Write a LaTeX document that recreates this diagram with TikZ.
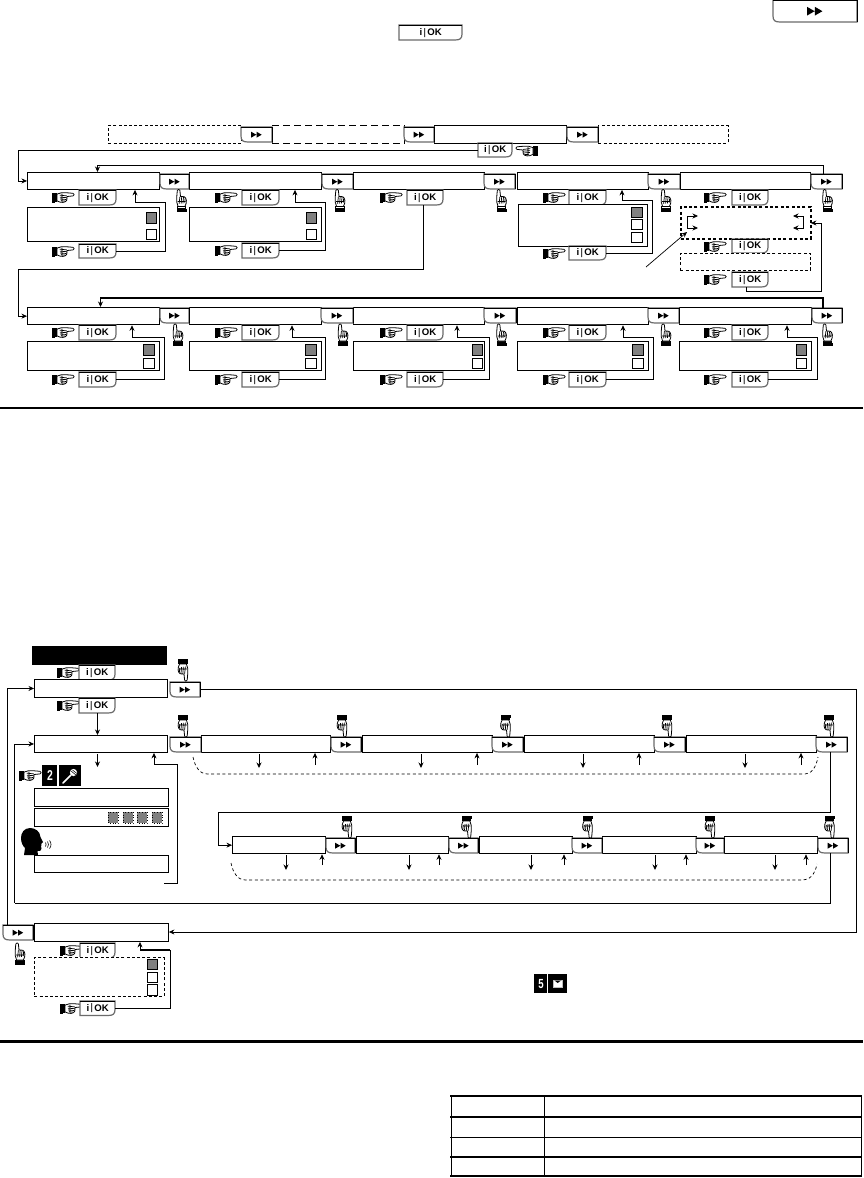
\documentclass[tikz,border=0pt]{standalone}
\usepackage{fontspec}
\setmainfont{Liberation Sans}
\usetikzlibrary{arrows.meta,calc}
\definecolor{sqgray}{gray}{0.5}
\definecolor{edgegray}{gray}{0.42}
\tikzset{
  lcd/.style={draw=black,fill=white,line width=.9pt,inner sep=0pt,anchor=north west},
  lcdthick/.style={lcd,line width=1.3pt},
  dashbox/.style={lcd,dash pattern=on 3pt off 2.2pt},
  dashboxthick/.style={lcd,line width=1.7pt,dash pattern=on 3pt off 2.4pt},
  dashlong/.style={lcd,dash pattern=on 7pt off 4pt},
  btnedge/.style={draw=edgegray,fill=white,line width=1.2pt},
  btnlabel/.style={inner sep=0pt,anchor=north west,font=\bfseries},
  conn/.style={draw=black,line width=.8pt},
  heavy/.style={draw=black,line width=1.4pt},
  arr/.style={conn,-{Stealth[length=5.5pt,width=5pt]}},
  flow/.style={conn,line width=.7pt,dash pattern=on 3pt off 2.6pt},
  hand/.pic={
    \fill[black] (-11,-5) rectangle (-8.4,5);
    \draw[black,line width=.8pt] (-7.8,-4.2) rectangle (-6.2,4.2);
    \draw[black,fill=white,line width=.8pt,line join=round]
      (-6,-3.4) .. controls (-3,-4.8) and (0,-5.2) .. (3,-4.8) -- (10,-4.2)
      .. controls (11.6,-3.8) and (11.6,-1.8) .. (10,-1.6) -- (4,-1)
      .. controls (5,1.4) and (3.8,4.6) .. (0,4.9) .. controls (-2,5.1) and (-4,4.4) .. (-6,3.4) -- cycle;
    \draw[black,line width=.7pt] (-3.4,-2.4) -- (3.8,-1.6) (-3.2,-.4) -- (3.8,.2) (-2.8,1.5) -- (3.4,2) (-2.2,3.2) -- (1.8,3.6) (-1,-3.8) -- (-1,4);
  },
}
% OK key: name x1 y1 x2 y2
\newcommand\okb[5]{%
  \draw[btnedge] (#2,#3) -- (#4,#3) -- ({#4},{#5-6}) .. controls ({#4},{#5-1.5}) and ({#4-2},{#5}) .. ({#4-7},{#5}) -- (#2,#5) -- cycle;
  \draw[black,line width=.7pt] (#2,#3) -- (#4,#3);
  \node[btnlabel,minimum width={(#4-#2)*1pt},minimum height={(#5-#3)*1pt},font=\fontsize{9.6}{10}\selectfont\bfseries] (#1) at (#2,#3) {i\,\raisebox{.2pt}{\scalebox{.7}[1]{|}}\,OK};
}
% pointing hand + OK key: [offset of the hand left of the key] name x1 y1 x2 y2
\newcommand\rok[6][16]{%
  \pic at ({#3-#1},{#4+7.5}) {hand};
  \okb{#2}{#3}{#4}{#5}{#6}%
}
% forward key: name x1 y1 x2 y2
\newcommand\ffb[5]{%
  \draw[btnedge] (#4,#3) -- (#2,#3) -- ({#2},{#5-6}) .. controls ({#2},{#5-1.5}) and ({#2+2},{#5}) .. ({#2+7},{#5}) -- (#4,#5) -- cycle;
  \draw[black,line width=.7pt] (#2,#3) -- (#4,#3) (#4,#3) -- (#4,#5);
  \node[btnlabel,minimum width={(#4-#2)*1pt},minimum height={(#5-#3)*1pt}] (#1) at (#2,#3) {};
  \pgfmathsetmacro\ffs{(#5-#3)<17?1:1.45}
  \fill[black,shift={(#1.center)},scale=\ffs] (-5.6,-3) -- (-.4,0) -- (-5.6,3) -- cycle (-.2,-3) -- (5,0) -- (-.2,3) -- cycle;
}
% box: [style] name x1 y1 x2 y2
\newcommand\lcdbox[6][lcd]{%
  \node[#1,minimum width={(#5-#3)*1pt},minimum height={(#6-#4)*1pt}] (#2) at (#3,#4) {};
}
\newcommand\gsq[4]{\draw[fill=sqgray,draw=black,line width=.8pt] (#1,#2) rectangle (#3,#4);}
\newcommand\wsq[4]{\draw[fill=white,draw=black,line width=1pt] (#1,#2) rectangle (#3,#4);}
\newcommand\dsq[1]{\draw[fill=sqgray,draw=black,line width=.6pt,dotted] (#1,812) rectangle ({#1+10},823);}
\newcommand\retln[5]{\draw[arr] (#1.east) -| (#2,#3) -| (#4,0 |- #5.south);}
\begin{document}
\begin{tikzpicture}[x=1pt,y=-1pt]
\useasboundingbox (0,0) rectangle (863,1178);
\fill[white] (0,0) rectangle (863,1178);

% key icons in the running text
\ffb{topff}{773}{0}{857}{22}
\okb{topok}{399}{25}{462}{40}

% ---- upper diagram, start row
\lcdbox[dashbox]{s1}{108}{125}{241}{142.5}
\lcdbox[dashlong]{s2}{272}{125}{404}{142.5}
\lcdbox{s3}{434}{125}{566}{142.5}
\lcdbox[dashbox]{s4}{598}{125}{727.5}{142.5}
\ffb{sf1}{241}{127}{272}{142}
\ffb{sf2}{404}{127}{434}{142}
\ffb{sf3}{567}{127}{598}{142}
\okb{sok}{478}{143}{512}{157}
\pic[xscale=-1] at (527,151) {hand};

% ---- row 1
\lcdbox{a1}{27}{172}{159}{189}
\lcdbox{a2}{189}{172}{320.5}{189}
\lcdbox{a3}{353}{172}{484}{189}
\lcdbox{a4}{517}{172}{648}{189}
\lcdbox{a5}{680}{172}{810}{189}
\ffb{af1}{160}{174}{189}{189}
\ffb{af2}{322}{174}{353}{189}
\ffb{af3}{484}{174}{515}{189}
\ffb{af4}{648}{174}{680}{189}
\ffb{af5}{811}{174}{842}{189}
\foreach \hx in {181.5,340,501.5,666,827.5} {\pic[rotate=90] at (\hx,200.5) {hand};}
\rok{ao1}{79}{190}{116}{205}
\rok{ao2}{242}{190}{279}{205}
\rok{ao3}{407}{190}{443}{205}
\rok[15]{ao4}{569}{190}{606}{205}
\rok[17]{ao5}{732}{190}{768}{205}

\lcdbox{b1}{27}{207}{159}{241}
\gsq{146}{212}{156}{223}\wsq{146}{229}{156}{239}
\rok{bo1}{79}{244}{116}{258}
\lcdbox{b2}{189}{207}{321}{241}
\gsq{306}{212}{316}{223}\wsq{306}{229}{316}{239}
\rok{bo2}{242}{243}{279}{258}
\lcdbox{b4}{518}{204}{647}{246}
\gsq{631}{207}{642}{217}\wsq{631}{219}{642}{229}\wsq{631}{232}{642}{242}
\rok[15]{bo4}{569}{246}{606}{260}
\lcdbox[dashboxthick]{b5}{680}{206}{810}{238}
\rok[17]{bo5}{732}{239}{768}{253}
\lcdbox[dashbox]{c5}{680}{253}{810}{270}
\rok[17]{co5}{732}{272}{768}{287}

% selection brackets inside the dashed box
\coordinate (brL) at (687,216); \coordinate (brR) at (803,216);
\draw[arr,line width=.7pt] (brL) -- (698,216);
\draw[arr,line width=.7pt] (brL) -- (687,228) -- (698,228);
\draw[arr,line width=.7pt] (brR) -- (793,216);
\draw[arr,line width=.7pt] (brR) -- (803,228) -- (793,228);
\coordinate (callout) at (646,267);
\coordinate (calltip) at (687,232);
\draw[arr,line width=.7pt] (callout) -- (calltip);

% connectors row 1
\draw[arr] (sok.west) -| ($(a1.west)+(-9,0)$) -- (a1.west);
\draw[arr] (823,0 |- af5.north) |- (97.5,165) -- (97.5,0 |- a1.north);
\retln{bo1}{165.5}{202.7}{135}{a1}
\draw[heavy] (bo1.east) -- (165.5,0 |- bo1.east);
\retln{bo2}{325}{202.7}{295}{a2}
\draw[heavy] (bo2.east) -- (325,0 |- bo2.east);
\retln{bo4}{652}{200}{622}{a4}
\draw[arr] (746,0 |- co5.south) |- (821,291) -- (821,223) -- (c5.east |- 0,223);
\draw[conn] (423,0 |- ao3.south) -- (423,269) -- (18,269);

% ---- row 2
\lcdbox[lcdthick]{d1}{27}{307}{159}{324}
\lcdbox[lcdthick]{d2}{189}{307}{321}{324}
\lcdbox[lcdthick]{d3}{353}{307}{484}{324}
\lcdbox[lcdthick]{d4}{517}{307}{648}{324}
\lcdbox[lcdthick]{d5}{679}{307}{811}{324}
\ffb{df1}{160}{308}{189}{323}
\ffb{df2}{321}{308}{353}{323}
\ffb{df3}{484}{308}{516}{323}
\ffb{df4}{648}{308}{679}{323}
\ffb{df5}{812}{308}{842}{323}
\foreach \hx in {178,343,501.5,666,827.5} {\pic[rotate=90] at (\hx,335) {hand};}
\rok{do1}{79}{325}{116}{340}
\rok{do2}{242}{325}{279}{340}
\rok{do3}{407}{325}{443}{340}
\rok[15]{do4}{569}{325}{606}{340}
\rok[17]{do5}{732}{325}{768}{340}

\lcdbox{e1}{27}{341}{159}{370}
\lcdbox{e2}{189}{341}{321}{370}
\lcdbox{e3}{353}{341}{484}{370}
\lcdbox[lcdthick]{e4}{517}{341}{648}{370}
\lcdbox{e5}{679}{341}{811}{370}
\gsq{143}{344}{154}{355}\wsq{143}{358}{154}{368}
\gsq{305}{344}{316}{355}\wsq{305}{358}{316}{368}
\gsq{472}{344}{482}{355}\wsq{472}{358}{482}{368}
\gsq{632}{344}{643}{355}\wsq{632}{358}{643}{368}
\gsq{796}{344}{806}{355}\wsq{796}{358}{806}{368}
\rok{go1}{79}{372}{116}{387}
\rok{go2}{242}{372}{279}{387}
\rok{go3}{407}{372}{443}{387}
\rok[15]{go4}{569}{372}{606}{387}
\rok[17]{go5}{732}{372}{768}{387}

\draw[arr] (18,269) |- (d1.west);
\draw[arr,line width=1.3pt] (823,0 |- df5.north) |- (100.5,298) -- (100.5,0 |- d1.north);
\retln{go1}{164}{337}{132}{d1}
\retln{go2}{325}{337}{292}{d2}
\retln{go3}{489}{337}{457}{d3}
\retln{go4}{653}{337}{623}{d4}
\retln{go5}{817}{337}{787}{d5}

% section rule
\fill[black] (0,407) rectangle (863,409);

% ---- lower diagram
\node[lcd,fill=black,minimum width=134pt,minimum height=18pt] (title) at (32,646) {};
\rok[11]{mo1}{79}{665}{115}{680}
\lcdbox{m1}{34}{679}{167}{697}
\ffb{mf1}{170}{682}{200}{697}
\pic[rotate=-90] at (183,670) {hand};
\rok[11]{mo2}{79}{698}{115}{713}

\lcdbox{n1}{34}{735}{167}{752}
\lcdbox{n2}{201}{735}{330}{752}
\lcdbox{n3}{362}{735}{492}{752}
\lcdbox{n4}{524}{735}{654}{752}
\lcdbox{n5}{686}{735}{816}{752}
\ffb{nf1}{170}{737}{201}{752}
\ffb{nf2}{331}{737}{361}{752}
\ffb{nf3}{492}{737}{523}{752}
\ffb{nf4}{654}{737}{685}{752}
\ffb{nf5}{816}{737}{847}{752}
\foreach \hx in {183,342,505.5,667,829} {\pic[rotate=-90] at (\hx,726) {hand};}

% record / speak steps
\pic at (30,775.5) {hand};
\node[lcd,fill=black,draw=none,minimum width=15pt,minimum height=21pt,text=white,font=\bfseries\fontsize{13}{13}\selectfont,inner sep=0pt] (keytwo) at (42,765) {\scalebox{.8}[1.1]{2}};
\node[lcd,fill=black,draw=none,minimum width=22pt,minimum height=21pt] (keymic) at (59,765) {};
\draw[white,line width=1.6pt,line cap=round] (63,783) -- (71,775);
\fill[white] (73.5,772.5) circle (3.6pt);
\draw[black,line width=.5pt] (71,771) -- (76,775) (72.5,770) -- (77,773.5);
\lcdbox{p1}{34}{788}{168}{806}
\lcdbox{p2}{34}{808}{168}{826}
\dsq{108}\dsq{123}\dsq{137}\dsq{152}
\fill[black] (38,855) -- (37.5,851) .. controls (40,851.5) and (41.5,850.5) .. (41.5,848.5) -- (41,846) .. controls (42,845.5) and (41.5,844.5) .. (41,844) .. controls (42,843.5) and (42,842.5) .. (43,842)
  .. controls (42.5,840.5) and (41,838.5) .. (40.5,837) .. controls (40,831) and (35,828) .. (30,828) .. controls (24,828) and (21,833) .. (21,838) .. controls (21,843) and (23,846) .. (25,848) -- (24,855) -- cycle;
\draw[black,line width=.6pt]
  (45.5,842.5) .. controls (46.3,843.5) and (46.3,845.5) .. (45.5,846.5)
  (47.5,841.5) .. controls (48.8,843) and (48.8,846) .. (47.5,847.5)
  (49.5,840.5) .. controls (51.5,842.5) and (51.5,846.5) .. (49.5,848.5);
\lcdbox{p3}{34}{855}{168}{872}

\lcdbox[lcdthick]{q1}{232}{836}{325}{853}
\lcdbox[lcdthick]{q2}{355.5}{836}{448}{853}
\lcdbox[lcdthick]{q3}{479}{836}{572}{853}
\lcdbox[lcdthick]{q4}{602}{836}{696}{853}
\lcdbox[lcdthick]{q5}{724}{836}{817}{853}
\ffb{qf1}{326}{838}{355}{853}
\ffb{qf2}{449}{838}{478}{853}
\ffb{qf3}{572}{838}{602}{853}
\ffb{qf4}{696}{838}{724}{853}
\ffb{qf5}{818}{838}{848}{853}
\foreach \hx in {347,466.5,587.5,710,829.5} {\pic[rotate=-90] at (\hx,827) {hand};}

\lcdbox{r1}{34}{923}{168}{941}
\ffb{rf1}{3}{925}{33}{940}
\pic[rotate=90] at (20,954) {hand};
\rok[9]{ro1}{80}{943}{115}{958}
\lcdbox[dashbox]{t1}{34}{957}{163.5}{996}
\gsq{147}{959}{157}{969}\wsq{147}{972}{157}{982}\wsq{147}{984}{157}{995}
\rok[9]{ro2}{80}{1001}{115}{1015.5}

% connectors, lower diagram
\draw[arr] (mf1.east) -- (856,0 |- mf1.east) -- (856,932) -- (r1.east |- 0,932);
\draw[arr] (7.5,0 |- rf1.north) |- (m1.west);
\draw[arr] (97.5,0 |- mo2.south) -- (97.5,0 |- n1.north);
\draw[arr] (14.5,903) |- (n1.west);
\draw[arr] (97.5,754) -- (97.5,767);
\coordinate (recret) at (164,883);
\draw[arr] (recret) -| (177,764) -| (154,0 |- n1.south);
\foreach \dx/\ux/\bx in {259/315/n2,421/477/n3,583/639/n4,745/801/n5} {
  \draw[arr] (\dx,0 |- \bx.south) ++(0,1) -- (\dx,768);
  \draw[arr] (\ux,765) -- (\ux,0 |- \bx.south);
}
\draw[flow] (193,757) .. controls (195,767) and (200,774) .. (207,774) -- (805,774) .. controls (811,774) and (816,768) .. (818,757);
\draw[arr] (830,0 |- nf5.south) -- (830,812) -- (218,812) |- (q1.west);
\foreach \dx/\ux/\bx in {286/322/q1,409/439/q2,531/564/q3,655/686/q4,775/806/q5} {
  \draw[arr] (\dx,855) -- (\dx,870);
  \draw[arr] (\ux,865) -- (\ux,0 |- \bx.south);
}
\draw[flow] (231,863) .. controls (233,873) and (238,880) .. (245,880) -- (803,880) .. controls (809,880) and (815,875) .. (817,864);
\draw[conn] (830,0 |- qf5.south) -- (830,903) -- (14.5,903);
\retln{ro2}{170}{950}{140}{r1}
\draw[heavy] (170,950) -- (140,950);

% envelope key
\node[lcd,fill=black,draw=none,minimum width=13pt,minimum height=19pt,text=white,font=\bfseries\fontsize{12}{12}\selectfont,inner sep=0pt] (keyfive) at (534,974) {\scalebox{.8}[1.1]{5}};
\node[lcd,fill=black,draw=none,minimum width=19pt,minimum height=19pt] (keymail) at (548,974) {};
\draw[gray!50,fill=white,line width=.8pt] (553,980) rectangle (562.5,987);
\fill[black] (554.5,980.5) -- (561,980.5) -- (557.7,983) -- cycle;

% section rule
\fill[black] (0,1039.5) rectangle (863,1042.5);

% table grid
\draw[black,line width=1pt] (451,1095) -- (451,1176) (544,1095) -- (544,1176) (861.5,1095) -- (861.5,1176);
\draw[black,line width=2pt] (450,1095.5) -- (862,1095.5) (450,1117) -- (862,1117) (450,1176) -- (862,1176);
\draw[black,line width=1.1pt] (450,1137.5) -- (862,1137.5) (450,1157) -- (862,1157);
\end{tikzpicture}
\end{document}
